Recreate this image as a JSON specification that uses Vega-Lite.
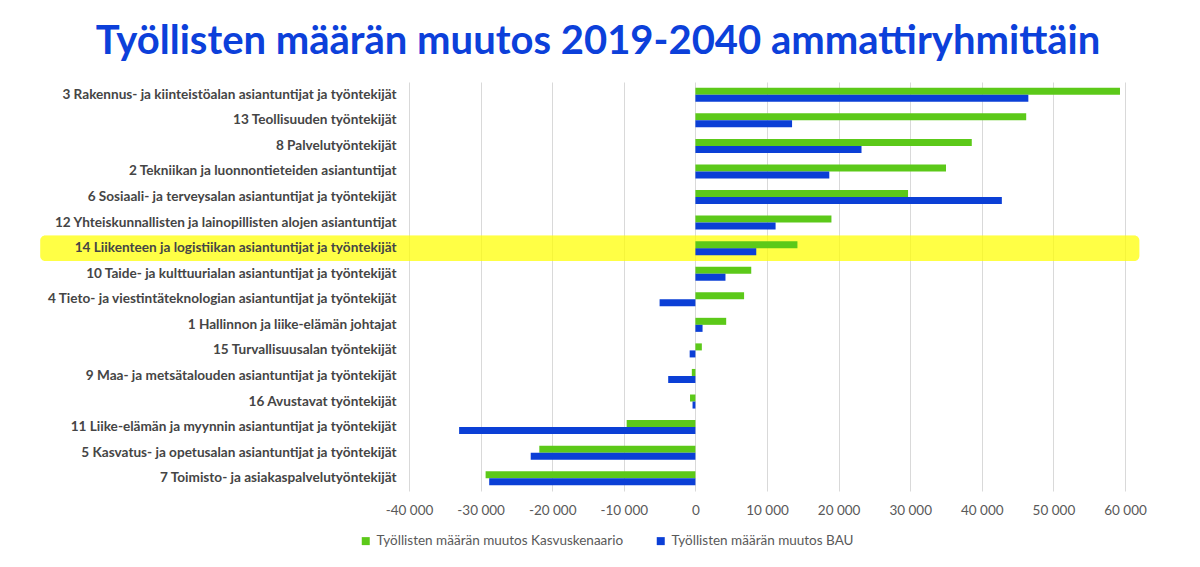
{
  "$schema": "https://vega.github.io/schema/vega-lite/v6.json",
  "autosize": {"type": "none"},
  "width": 716,
  "height": 409,
  "padding": {"left": 409, "top": 82, "right": 75, "bottom": 76},
  "background": "white",
  "title": {
    "text": "Työllisten määrän muutos 2019-2040 ammattiryhmittäin",
    "anchor": "middle",
    "frame": "group",
    "dx": -169,
    "offset": 20,
    "font": "Lato",
    "fontSize": 40,
    "fontWeight": "bold",
    "color": "#0c40da"
  },
  "config": {
    "view": {"stroke": null},
    "font": "Lato",
    "locale": {
      "number": {
        "decimal": ",",
        "thousands": " ",
        "grouping": [3],
        "currency": ["", " €"],
        "minus": "-"
      }
    }
  },
  "data": {
    "values": [
      {"ryhma": "3 Rakennus- ja kiinteistöalan asiantuntijat ja työntekijät", "skenaario": "Työllisten määrän muutos Kasvuskenaario", "muutos": 59300},
      {"ryhma": "3 Rakennus- ja kiinteistöalan asiantuntijat ja työntekijät", "skenaario": "Työllisten määrän muutos BAU", "muutos": 46500},
      {"ryhma": "13 Teollisuuden työntekijät", "skenaario": "Työllisten määrän muutos Kasvuskenaario", "muutos": 46200},
      {"ryhma": "13 Teollisuuden työntekijät", "skenaario": "Työllisten määrän muutos BAU", "muutos": 13500},
      {"ryhma": "8 Palvelutyöntekijät", "skenaario": "Työllisten määrän muutos Kasvuskenaario", "muutos": 38600},
      {"ryhma": "8 Palvelutyöntekijät", "skenaario": "Työllisten määrän muutos BAU", "muutos": 23200},
      {"ryhma": "2 Tekniikan ja luonnontieteiden asiantuntijat", "skenaario": "Työllisten määrän muutos Kasvuskenaario", "muutos": 35000},
      {"ryhma": "2 Tekniikan ja luonnontieteiden asiantuntijat", "skenaario": "Työllisten määrän muutos BAU", "muutos": 18700},
      {"ryhma": "6 Sosiaali- ja terveysalan asiantuntijat ja työntekijät", "skenaario": "Työllisten määrän muutos Kasvuskenaario", "muutos": 29700},
      {"ryhma": "6 Sosiaali- ja terveysalan asiantuntijat ja työntekijät", "skenaario": "Työllisten määrän muutos BAU", "muutos": 42800},
      {"ryhma": "12 Yhteiskunnallisten ja lainopillisten alojen asiantuntijat", "skenaario": "Työllisten määrän muutos Kasvuskenaario", "muutos": 19000},
      {"ryhma": "12 Yhteiskunnallisten ja lainopillisten alojen asiantuntijat", "skenaario": "Työllisten määrän muutos BAU", "muutos": 11200},
      {"ryhma": "14 Liikenteen ja logistiikan asiantuntijat ja työntekijät", "skenaario": "Työllisten määrän muutos Kasvuskenaario", "muutos": 14250},
      {"ryhma": "14 Liikenteen ja logistiikan asiantuntijat ja työntekijät", "skenaario": "Työllisten määrän muutos BAU", "muutos": 8500},
      {"ryhma": "10 Taide- ja kulttuurialan asiantuntijat ja työntekijät", "skenaario": "Työllisten määrän muutos Kasvuskenaario", "muutos": 7800},
      {"ryhma": "10 Taide- ja kulttuurialan asiantuntijat ja työntekijät", "skenaario": "Työllisten määrän muutos BAU", "muutos": 4200},
      {"ryhma": "4 Tieto- ja viestintäteknologian asiantuntijat ja työntekijät", "skenaario": "Työllisten määrän muutos Kasvuskenaario", "muutos": 6800},
      {"ryhma": "4 Tieto- ja viestintäteknologian asiantuntijat ja työntekijät", "skenaario": "Työllisten määrän muutos BAU", "muutos": -5000},
      {"ryhma": "1 Hallinnon ja liike-elämän johtajat", "skenaario": "Työllisten määrän muutos Kasvuskenaario", "muutos": 4300},
      {"ryhma": "1 Hallinnon ja liike-elämän johtajat", "skenaario": "Työllisten määrän muutos BAU", "muutos": 1000},
      {"ryhma": "15 Turvallisuusalan työntekijät", "skenaario": "Työllisten määrän muutos Kasvuskenaario", "muutos": 900},
      {"ryhma": "15 Turvallisuusalan työntekijät", "skenaario": "Työllisten määrän muutos BAU", "muutos": -800},
      {"ryhma": "9 Maa- ja metsätalouden asiantuntijat ja työntekijät", "skenaario": "Työllisten määrän muutos Kasvuskenaario", "muutos": -500},
      {"ryhma": "9 Maa- ja metsätalouden asiantuntijat ja työntekijät", "skenaario": "Työllisten määrän muutos BAU", "muutos": -3800},
      {"ryhma": "16 Avustavat työntekijät", "skenaario": "Työllisten määrän muutos Kasvuskenaario", "muutos": -750},
      {"ryhma": "16 Avustavat työntekijät", "skenaario": "Työllisten määrän muutos BAU", "muutos": -400},
      {"ryhma": "11 Liike-elämän ja myynnin asiantuntijat ja työntekijät", "skenaario": "Työllisten määrän muutos Kasvuskenaario", "muutos": -9600},
      {"ryhma": "11 Liike-elämän ja myynnin asiantuntijat ja työntekijät", "skenaario": "Työllisten määrän muutos BAU", "muutos": -33000},
      {"ryhma": "5 Kasvatus- ja opetusalan asiantuntijat ja työntekijät", "skenaario": "Työllisten määrän muutos Kasvuskenaario", "muutos": -21800},
      {"ryhma": "5 Kasvatus- ja opetusalan asiantuntijat ja työntekijät", "skenaario": "Työllisten määrän muutos BAU", "muutos": -23000},
      {"ryhma": "7 Toimisto- ja asiakaspalvelutyöntekijät", "skenaario": "Työllisten määrän muutos Kasvuskenaario", "muutos": -29300},
      {"ryhma": "7 Toimisto- ja asiakaspalvelutyöntekijät", "skenaario": "Työllisten määrän muutos BAU", "muutos": -28800}
    ]
  },
  "encoding": {
    "y": {
      "field": "ryhma",
      "type": "nominal",
      "sort": null,
      "scale": {"paddingInner": 0, "paddingOuter": 0},
      "axis": {
        "title": null,
        "domain": false,
        "ticks": false,
        "labelPadding": 13,
        "labelFontSize": 13.6,
        "labelFont": "Lato",
        "labelFontWeight": "bold",
        "labelColor": "#454545",
        "labelLimit": 400,
        "zindex": 1
      }
    }
  },
  "layer": [
    {
      "mark": {"type": "rect", "cornerRadius": 5, "clip": false},
      "encoding": {
        "x": {"datum": -91500, "type": "quantitative"},
        "x2": {"datum": 62000},
        "fill": {
          "condition": {"test": "datum.ryhma === '14 Liikenteen ja logistiikan asiantuntijat ja työntekijät'", "value": "#ffff00"},
          "value": "transparent"
        },
        "fillOpacity": {"value": 0.48}
      }
    },
    {
      "mark": {"type": "bar"},
      "encoding": {
        "x": {
          "field": "muutos",
          "type": "quantitative",
          "scale": {"domain": [-40000, 60000], "nice": false},
          "axis": {
            "title": null,
            "values": [-40000, -30000, -20000, -10000, 0, 10000, 20000, 30000, 40000, 50000, 60000],
            "format": ",d",
            "domain": false,
            "ticks": false,
            "grid": true,
            "gridColor": "#d9d9d9",
            "gridWidth": 1,
            "labelFontSize": 13.5,
            "labelFont": "Lato",
            "labelColor": "#595959",
            "labelPadding": 12,
            "labelFlush": false,
            "zindex": 0
          }
        },
        "yOffset": {
          "field": "skenaario",
          "type": "nominal",
          "sort": ["Työllisten määrän muutos Kasvuskenaario", "Työllisten määrän muutos BAU"],
          "scale": {"paddingInner": 0, "paddingOuter": 0.82}
        },
        "color": {
          "field": "skenaario",
          "type": "nominal",
          "sort": ["Työllisten määrän muutos Kasvuskenaario", "Työllisten määrän muutos BAU"],
          "scale": {"range": ["#5cc919", "#0b3fd6"]},
          "legend": {
            "title": null,
            "orient": "none",
            "direction": "horizontal",
            "legendX": -50,
            "legendY": 452,
            "symbolType": "square",
            "symbolSize": 64,
            "symbolStrokeWidth": 0,
            "labelFontSize": 13.5,
            "labelFont": "Lato",
            "labelColor": "#595959",
            "labelLimit": 400,
            "columnPadding": 30,
            "symbolOffset": 0
          }
        }
      }
    }
  ]
}
